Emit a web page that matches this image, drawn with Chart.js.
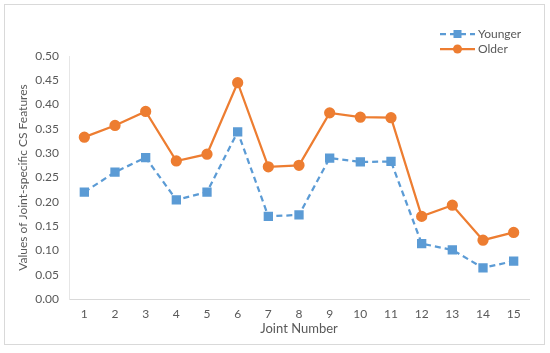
<!DOCTYPE html>
<html>
<head>
<meta charset="utf-8">
<script src="https://cdn.jsdelivr.net/npm/chart.js@4"></script>
<style>
  html, body { margin: 0; padding: 0; background: #fff; }
  #wrap { width: 550px; height: 353px; }
</style>
</head>
<body>
<div id="wrap"><canvas id="chart"></canvas></div>
<script>
const joints = ['1', '2', '3', '4', '5', '6', '7', '8', '9', '10', '11', '12', '13', '14', '15'];
const younger = [0.220, 0.261, 0.291, 0.204, 0.220, 0.344, 0.170, 0.173, 0.290, 0.282, 0.283, 0.114, 0.101, 0.064, 0.078];
const older = [0.333, 0.357, 0.386, 0.284, 0.298, 0.445, 0.272, 0.275, 0.383, 0.374, 0.373, 0.170, 0.193, 0.121, 0.137];

const BLUE = '#5B9BD5';
const ORANGE = '#ED7D31';
const TEXT = '#595959';
const FONT = 'Lato, "Noto Sans", sans-serif';

// outer frame + legend like the office chart
const decor = {
  id: 'decor',
  beforeDraw(chart) {
    const ctx = chart.ctx;
    ctx.save();
    ctx.fillStyle = '#fff';
    ctx.fillRect(0, 0, chart.width, chart.height);
    ctx.strokeStyle = '#d9d9d9';
    ctx.lineWidth = 1;
    ctx.strokeRect(4.5, 4.5, 540, 340);
    ctx.restore();
  },
  afterDraw(chart) {
    const ctx = chart.ctx;
    ctx.save();
    chart.data.datasets.forEach((ds, i) => {
      const y = 34 + i * 15;
      const x0 = 440, x1 = 475;
      ctx.strokeStyle = ds.borderColor;
      ctx.lineWidth = 2.25;
      ctx.setLineDash(ds.borderDash || []);
      ctx.beginPath();
      ctx.moveTo(x0, y);
      ctx.lineTo(x1, y);
      ctx.stroke();
      ctx.setLineDash([]);
      ctx.fillStyle = ds.pointBackgroundColor;
      const cx = (x0 + x1) / 2;
      if (ds.pointStyle === 'rect') {
        ctx.fillRect(cx - 4, y - 4, 8, 8);
      } else {
        ctx.beginPath();
        ctx.arc(cx, y, 4.5, 0, Math.PI * 2);
        ctx.fill();
      }
      ctx.fillStyle = TEXT;
      ctx.font = '12px ' + FONT;
      ctx.textBaseline = 'middle';
      ctx.fillText(ds.label, x1 + 3, y);
    });
    ctx.restore();
  }
};

new Chart(document.getElementById('chart'), {
  type: 'line',
  data: {
    labels: joints,
    datasets: [
      {
        label: 'Younger',
        data: younger,
        borderColor: BLUE,
        backgroundColor: BLUE,
        pointBackgroundColor: BLUE,
        pointBorderColor: BLUE,
        borderWidth: 2.25,
        borderDash: [6, 4],
        pointStyle: 'rect',
        pointRadius: 5,
        tension: 0,
      },
      {
        label: 'Older',
        data: older,
        borderColor: ORANGE,
        backgroundColor: ORANGE,
        pointBackgroundColor: ORANGE,
        pointBorderColor: ORANGE,
        borderWidth: 2.25,
        pointStyle: 'circle',
        pointRadius: 4.5,
        tension: 0,
      },
    ],
  },
  options: {
    responsive: true,
    maintainAspectRatio: false,
    animation: false,
    layout: { padding: { left: 16, right: 21, top: 56, bottom: 16 } },
    plugins: {
      legend: { display: false },
      tooltip: { enabled: false },
    },
    scales: {
      x: {
        offset: true,
        grid: { display: false, drawTicks: false },
        border: { color: '#d9d9d9', width: 1 },
        ticks: { color: TEXT, font: { family: FONT, size: 12 }, padding: 8 },
        title: { display: true, text: 'Joint Number', color: TEXT, font: { family: FONT, size: 13 }, padding: { top: 0, bottom: 0 } },
        afterFit(scale) { scale.height = 38; },
      },
      y: {
        min: 0,
        max: 0.5,
        grid: { display: false, drawTicks: false },
        border: { color: '#e6e6e6', width: 1 },
        ticks: {
          stepSize: 0.05,
          color: TEXT,
          font: { family: FONT, size: 12 },
          padding: 10,
          callback: (v) => v.toFixed(2),
        },
        title: { display: true, text: 'Values of Joint-specific CS Features', color: TEXT, font: { family: FONT, size: 12 }, padding: { top: 0, bottom: 4 } },
        afterFit(scale) { scale.width = 53; },
      },
    },
  },
  plugins: [decor],
});
</script>
</body>
</html>
